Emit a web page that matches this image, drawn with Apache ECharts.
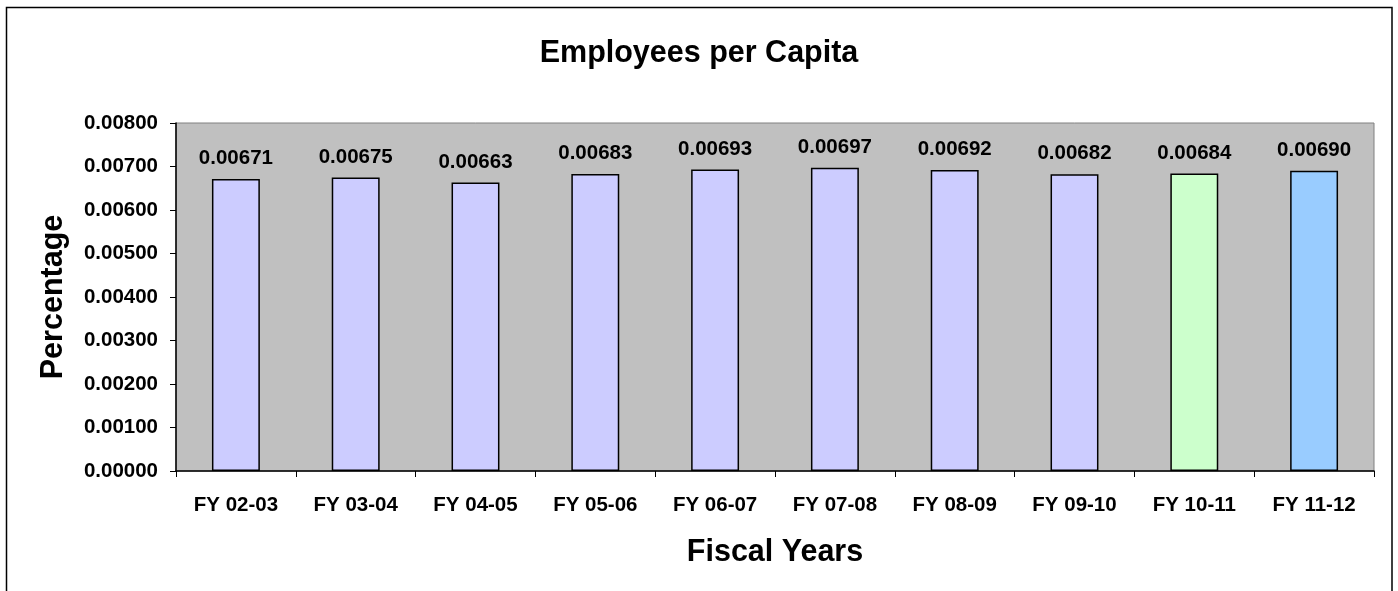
<!DOCTYPE html>
<html>
<head>
<meta charset="utf-8">
<title>Employees per Capita</title>
<script src="https://cdn.jsdelivr.net/npm/echarts@6/dist/echarts.min.js"></script>
<style>
  html, body { margin: 0; padding: 0; background: #ffffff; }
  #chart { width: 1398px; height: 591px; }
</style>
</head>
<body>
<div id="chart"></div>
<script>
// Fiscal years on the category axis
const fiscalYears = ['FY 02-03', 'FY 03-04', 'FY 04-05', 'FY 05-06', 'FY 06-07',
                     'FY 07-08', 'FY 08-09', 'FY 09-10', 'FY 10-11', 'FY 11-12'];
// Employees per capita for each fiscal year
const employeesPerCapita = [0.00671, 0.00675, 0.00663, 0.00683, 0.00693,
                            0.00697, 0.00692, 0.00682, 0.00684, 0.00690];
// Value axis range and step
const yMin = 0;
const yMax = 0.008;
const yStep = 0.001;

// Fill colours: historic years lavender, then the two most recent years highlighted
const lavender = '#CCCCFF';
const recentFills = { 'FY 10-11': '#CCFFCC', 'FY 11-12': '#99CCFF' };

const FONT = "'Liberation Sans', Arial, Helvetica, sans-serif";
const LABEL_SIZE = 20.5;
const HEADING_SIZE = 30.5;

const chart = echarts.init(document.getElementById('chart'), null, { renderer: 'canvas' });

chart.setOption({
  animation: false,
  backgroundColor: '#ffffff',
  title: {
    text: 'Employees per Capita',
    left: 'center',
    top: 33,
    textStyle: { fontFamily: FONT, fontWeight: 'bold', fontSize: HEADING_SIZE, color: '#000' }
  },
  grid: {
    left: 176,
    right: 24,
    top: 123,
    bottom: 120,
    show: true,
    backgroundColor: '#C0C0C0',
    borderColor: '#808080',
    borderWidth: 1
  },
  xAxis: {
    type: 'category',
    data: fiscalYears,
    name: 'Fiscal Years',
    nameLocation: 'middle',
    nameGap: 66,
    nameTextStyle: { fontFamily: FONT, fontWeight: 'bold', fontSize: HEADING_SIZE, color: '#000' },
    axisLine: { lineStyle: { color: '#000', width: 1.5 } },
    axisTick: { show: true, length: 6, lineStyle: { color: '#000' } },
    axisLabel: { fontFamily: FONT, fontWeight: 'bold', fontSize: LABEL_SIZE, color: '#000', margin: 24 },
    splitLine: { show: false }
  },
  yAxis: {
    type: 'value',
    min: yMin,
    max: yMax,
    interval: yStep,
    name: 'Percentage',
    nameLocation: 'middle',
    nameGap: 107,
    nameRotate: 90,
    nameTextStyle: { fontFamily: FONT, fontWeight: 'bold', fontSize: HEADING_SIZE, color: '#000' },
    axisLine: { show: true, lineStyle: { color: '#000', width: 1.5 } },
    axisTick: { show: true, length: 6, lineStyle: { color: '#000' } },
    axisLabel: {
      fontFamily: FONT, fontWeight: 'bold', fontSize: LABEL_SIZE, color: '#000', margin: 18,
      formatter: v => v.toFixed(5)
    },
    splitLine: { show: false }
  },
  series: [{
    type: 'bar',
    data: employeesPerCapita,
    barWidth: '40%',
    itemStyle: {
      color: p => recentFills[p.name] || lavender,
      borderColor: '#000',
      borderWidth: 1.5
    },
    label: {
      show: true,
      position: 'top',
      distance: 10,
      fontFamily: FONT,
      fontWeight: 'bold',
      fontSize: LABEL_SIZE,
      color: '#000',
      formatter: p => p.value.toFixed(5)
    }
  }],
  graphic: [{
    type: 'rect',
    silent: true,
    shape: { x: 6.5, y: 7.5, width: 1385.5, height: 620 },
    style: { fill: 'none', stroke: '#000', lineWidth: 1.5 }
  }]
});
</script>
</body>
</html>
